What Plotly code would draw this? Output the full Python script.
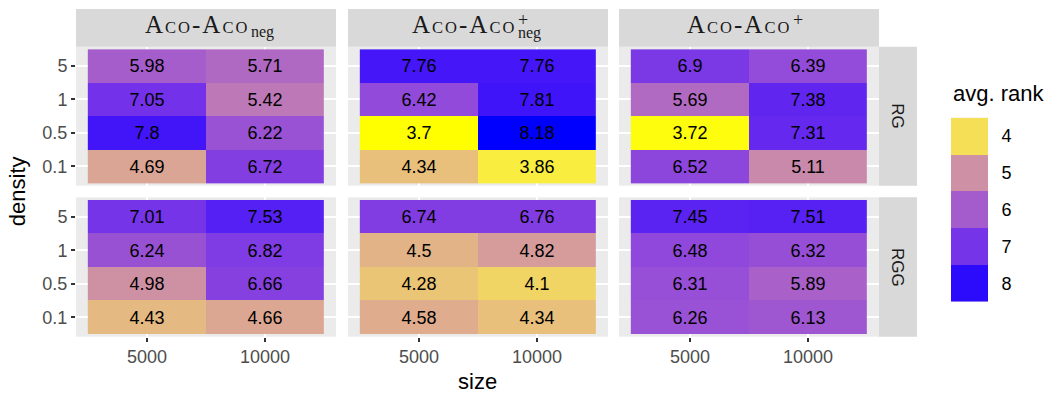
import numpy as np
import plotly.graph_objects as go

# ---- data -------------------------------------------------------------
sizes = ["5000", "10000"]
densities = ["0.1", "0.5", "1", "5"]          # bottom -> top
graph_types = ["RG", "RGG"]

# rows follow `densities`, columns follow `sizes`
rg_aco_neg = [[4.69, 6.72], [7.8, 6.22], [7.05, 5.42], [5.98, 5.71]]
rg_aco_plus_neg = [[4.34, 3.86], [3.7, 8.18], [6.42, 7.81], [7.76, 7.76]]
rg_aco_plus = [[6.52, 5.11], [3.72, 7.31], [5.69, 7.38], [6.9, 6.39]]
rgg_aco_neg = [[4.43, 4.66], [4.98, 6.66], [6.24, 6.82], [7.01, 7.53]]
rgg_aco_plus_neg = [[4.58, 4.34], [4.28, 4.1], [4.5, 4.82], [6.74, 6.76]]
rgg_aco_plus = [[6.26, 6.13], [6.31, 5.89], [6.48, 6.32], [7.45, 7.51]]

panels = [
    [rg_aco_neg, rg_aco_plus_neg, rg_aco_plus],
    [rgg_aco_neg, rgg_aco_plus_neg, rgg_aco_plus],
]
legend_breaks = [4, 5, 6, 7, 8]

# ---- yellow -> blue gradient interpolated in CIELAB ------------------
_M = np.array([[0.4124564, 0.3575761, 0.1804375],
               [0.2126729, 0.7151522, 0.0721750],
               [0.0193339, 0.1191920, 0.9503041]])
_WHITE = np.array([0.95047, 1.0, 1.08883])
_D = 6 / 29


def rgb_to_lab(rgb):
    c = np.asarray(rgb, float) / 255
    lin = np.where(c <= 0.04045, c / 12.92, ((c + 0.055) / 1.055) ** 2.4)
    xyz = _M @ lin / _WHITE
    f = np.where(xyz > _D ** 3, np.cbrt(xyz), xyz / (3 * _D ** 2) + 4 / 29)
    return np.array([116 * f[1] - 16, 500 * (f[0] - f[1]), 200 * (f[1] - f[2])])


def lab_to_rgb(lab):
    L, a, b = lab
    fy = (L + 16) / 116
    f = np.array([fy + a / 500, fy, fy - b / 200])
    xyz = np.where(f > _D, f ** 3, 3 * _D ** 2 * (f - 4 / 29)) * _WHITE
    lin = np.linalg.solve(_M, xyz)
    lin = np.clip(lin, 0, 1)
    c = np.where(lin <= 0.0031308, 12.92 * lin, 1.055 * lin ** (1 / 2.4) - 0.055)
    return np.clip(np.round(c * 255), 0, 255).astype(int)


all_vals = np.array(panels, float)
zmin, zmax = float(all_vals.min()), float(all_vals.max())

# fill is mapped on a reciprocal scale: t = (1/zmin - 1/v) / (1/zmin - 1/zmax)
low_lab = rgb_to_lab([255, 255, 0])
high_lab = rgb_to_lab([0, 0, 255])
colorscale = []
for v in np.linspace(zmin, zmax, 81):
    pos = (v - zmin) / (zmax - zmin)
    t = (1 / zmin - 1 / v) / (1 / zmin - 1 / zmax)
    r, g, b = lab_to_rgb(low_lab + (high_lab - low_lab) * t)
    colorscale.append([float(min(max(pos, 0), 1)), f"rgb({r},{g},{b})"])

# ---- geometry (pixels) ------------------------------------------------
W, H = 1052, 397
col_px = [(76, 336), (348, 608), (619, 879)]
row_px = [(46.7, 185.7), (197.3, 336.7)]
strip_top = 9
row_strip_px = (879, 917)


def px(x):
    return x / W


def py(y):
    return 1 - y / H


TICK_FONT = dict(family="Liberation Sans", size=18, color="#4D4D4D")
layout = dict(
    width=W, height=H,
    margin=dict(l=0, r=0, t=0, b=0),
    paper_bgcolor="white",
    plot_bgcolor="#EBEBEB",
    showlegend=False,
    font=dict(family="Liberation Sans", color="#1A1A1A"),
)

fig = go.Figure()
for r in range(2):
    for c in range(3):
        idx = r * 3 + c + 1
        sfx = "" if idx == 1 else str(idx)
        z = panels[r][c]
        labels = [[f"{v:g}" for v in row] for row in z]
        fig.add_trace(go.Heatmap(
            x=sizes, y=densities, z=z, text=labels,
            texttemplate="%{text}",
            textfont=dict(family="Liberation Sans", size=18, color="black"),
            colorscale=colorscale, zmin=zmin, zmax=zmax,
            showscale=False, hoverinfo="skip", xgap=0, ygap=0,
            xaxis="x" + sfx, yaxis="y" + sfx,
        ))
        x0, x1 = col_px[c]
        y0, y1 = row_px[r]
        layout["xaxis" + sfx] = dict(
            domain=[px(x0), px(x1)], anchor="y" + sfx, type="category",
            range=[-0.6, 1.6], showgrid=True, gridcolor="white", gridwidth=2,
            zeroline=False, showline=False,
            ticks="outside" if r == 1 else "", ticklen=4, tickwidth=1.6,
            tickcolor="#333333", showticklabels=(r == 1), tickfont=TICK_FONT,
            fixedrange=True,
        )
        layout["yaxis" + sfx] = dict(
            domain=[py(y1), py(y0)], anchor="x" + sfx, type="category",
            range=[-0.58, 3.58], showgrid=True, gridcolor="white", gridwidth=2,
            zeroline=False, showline=False,
            ticks="outside" if c == 0 else "", ticklen=4, tickwidth=1.6,
            tickcolor="#333333", showticklabels=(c == 0), tickfont=TICK_FONT,
            fixedrange=True,
        )

# legend keys: one tile per break on the same colour scale
fig.add_trace(go.Heatmap(
    x=["key"], y=[str(b) for b in legend_breaks],
    z=[[b] for b in legend_breaks],
    colorscale=colorscale, zmin=zmin, zmax=zmax,
    showscale=False, hoverinfo="skip", xaxis="x7", yaxis="y7",
))
layout["xaxis7"] = dict(domain=[px(951), px(988)], anchor="y7", type="category",
                        range=[-0.5, 0.5], showgrid=False, zeroline=False,
                        showticklabels=False, ticks="", fixedrange=True)
layout["yaxis7"] = dict(domain=[py(301.7), py(117.7)], anchor="x7", type="category",
                        range=[4.5, -0.5], showgrid=False, zeroline=False,
                        side="right", ticks="outside", ticklen=9,
                        tickcolor="rgba(0,0,0,0)",
                        tickfont=dict(family="Liberation Sans", size=18, color="black"),
                        fixedrange=True)

# strip backgrounds
shapes = []
for x0, x1 in col_px:
    shapes.append(dict(type="rect", xref="paper", yref="paper",
                       x0=px(x0), x1=px(x1), y0=py(row_px[0][0]), y1=py(strip_top),
                       fillcolor="#D9D9D9", line=dict(width=0), layer="below"))
for y0, y1 in row_px:
    shapes.append(dict(type="rect", xref="paper", yref="paper",
                       x0=px(row_strip_px[0]), x1=px(row_strip_px[1]), y0=py(y1), y1=py(y0),
                       fillcolor="#D9D9D9", line=dict(width=0), layer="below"))
layout["shapes"] = shapes

# strip labels (small-caps "Aco" with sub/superscripts)
SERIF = "Liberation Serif"
LS = "letter-spacing:2px"
SC = "font-size:16.5px"
main_label = (f'<span style="{LS}">A</span><span style="{SC};{LS}">C</span>'
              f'<span style="{SC};{LS}">O</span><span style="{LS}">-</span>'
              f'<span style="{LS}">A</span><span style="{SC};{LS}">C</span>'
              f'<span style="{SC}">O</span>')
ann = []


def add_text(text, x, y, size, xanchor="center", yanchor="middle", angle=0,
             family="Liberation Sans", color="#1A1A1A"):
    ann.append(dict(text=text, x=px(x), y=py(y), xref="paper", yref="paper",
                    xanchor=xanchor, yanchor=yanchor, showarrow=False,
                    textangle=angle, borderpad=0, align="left",
                    font=dict(family=family, size=size, color=color)))


strip_split = [248, 515, 790]
sub_neg = '<span style="font-size:16px">neg</span>'
sup_plus = '<span style="font-size:18px">+</span>'
add_text(main_label, strip_split[0], 24.5, 25, xanchor="right", family=SERIF)
add_text(sub_neg, strip_split[0] + 1.5, 31.5, 16, xanchor="left", family=SERIF)
add_text(main_label, strip_split[1], 24.5, 25, xanchor="right", family=SERIF)
add_text(f"{sup_plus}<br>{sub_neg}", strip_split[1] + 1.5, 26.5, 9.5,
         xanchor="left", family=SERIF)
add_text(main_label, strip_split[2], 24.5, 25, xanchor="right", family=SERIF)
add_text(sup_plus, strip_split[2] + 1.5, 20, 18, xanchor="left", family=SERIF)

for (y0, y1), g in zip(row_px, graph_types):
    add_text(g, (row_strip_px[0] + row_strip_px[1]) / 2, (y0 + y1) / 2, 17,
             angle=90, color="#1A1A1A")

# axis and legend titles
add_text("size", 477.5, 381, 22, color="black")
add_text("density", 17.5, 191.7, 22, angle=-90, color="black")
add_text("avg. rank", 952, 94, 22, xanchor="left", color="black")
layout["annotations"] = ann

fig.update_layout(**layout)
fig.write_html("out.html")
